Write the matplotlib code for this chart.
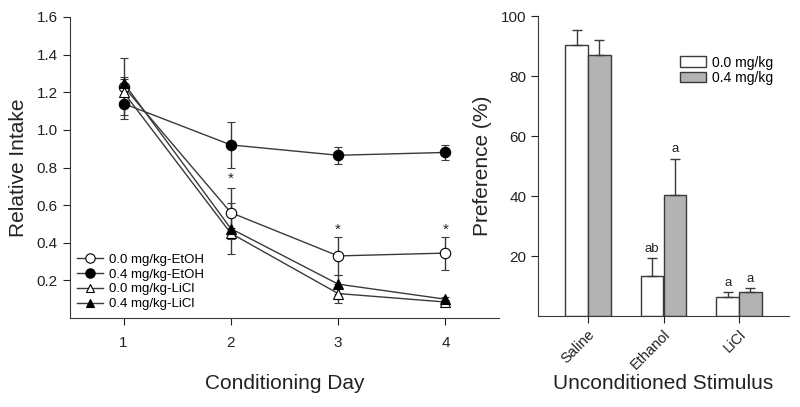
import numpy as np
import matplotlib
matplotlib.use("Agg")
import matplotlib.pyplot as plt
from matplotlib.lines import Line2D

plt.rcParams['font.family'] = ['Liberation Sans', 'DejaVu Sans']

# left panel: relative intake by conditioning day
days = [1, 2, 3, 4]
etoh_00 = [1.23, 0.56, 0.33, 0.345]
etoh_00_err = [0.15, 0.13, 0.10, 0.088]
etoh_04 = [1.14, 0.92, 0.865, 0.88]
etoh_04_err = [0.08, 0.12, 0.045, 0.04]
licl_00 = [1.20, 0.45, 0.13, 0.085]
licl_00_err = [0.07, 0.03, 0.05, 0.01]
licl_04 = [1.25, 0.475, 0.18, 0.10]
licl_04_err = [0.03, 0.135, 0.05, 0.01]
star_days = [2, 3, 4]
star_y = [0.74, 0.47, 0.47]

# right panel: preference by unconditioned stimulus
stimuli = ['Saline', 'Ethanol', 'LiCl']
pref_00 = [90.5, 13.5, 6.5]
pref_00_err = [5.0, 6.0, 1.5]
pref_04 = [87.0, 40.5, 8.0]
pref_04_err = [5.0, 12.0, 1.5]
letters_00 = ['', 'ab', 'a']
letters_04 = ['', 'a', 'a']

line_c = '#3a3a3a'
text_c = '#222222'

fig = plt.figure(figsize=(8, 4.07), dpi=100)
ax1 = fig.add_axes([70 / 800, 1 - 318 / 407, 429 / 800, 301 / 407])
ax2 = fig.add_axes([538 / 800, 1 - 316 / 407, 251 / 800, 300 / 407])

series = [
    (etoh_00, etoh_00_err, 'o', 'white', '0.0 mg/kg-EtOH'),
    (etoh_04, etoh_04_err, 'o', 'black', '0.4 mg/kg-EtOH'),
    (licl_00, licl_00_err, '^', 'white', '0.0 mg/kg-LiCl'),
    (licl_04, licl_04_err, '^', 'black', '0.4 mg/kg-LiCl'),
]
handles = []
for vals, errs, mk, fc, lab in series:
    ms = 7.5 if mk == 'o' else 7
    ax1.errorbar(days, vals, yerr=errs, marker=mk, ms=ms, mfc=fc, mec='black',
                 mew=0.8, color=line_c, lw=1.0, elinewidth=1.0, capsize=3,
                 ecolor=line_c)
    handles.append(Line2D([], [], marker=mk, ms=ms * 0.9, mfc=fc, mec='black',
                          mew=0.8, color=line_c, lw=1.0, label=lab))
for d, y in zip(star_days, star_y):
    ax1.text(d, y, '*', ha='center', va='center', fontsize=11, color=text_c)

ax1.set_xlim(0.5, 4.5)
ax1.set_ylim(0.0, 1.6)
ax1.set_xticks(days)
ax1.set_yticks([0.2, 0.4, 0.6, 0.8, 1.0, 1.2, 1.4, 1.6])
ax1.yaxis.set_major_formatter(matplotlib.ticker.FormatStrFormatter('%.1f'))
ax1.spines['top'].set_visible(False)
ax1.spines['right'].set_visible(False)
ax1.set_xlabel('Conditioning Day', fontsize=15, color=text_c)
ax1.xaxis.set_label_coords(0.5, (318 - 374) / 301)
ax1.set_ylabel('Relative Intake', fontsize=15, labelpad=6, color=text_c)
ax1.tick_params(labelsize=11, colors=text_c, length=5)
ax1.tick_params(axis='x', pad=8)
ax1.tick_params(axis='y', pad=4)
ax1.legend(handles=handles, loc='lower left', bbox_to_anchor=(-0.005, -0.005),
           frameon=False, fontsize=9.5, handlelength=2.0, borderpad=0.2,
           labelspacing=0.2, handletextpad=0.4)

x = np.arange(len(stimuli))
w = 0.3
ax2.bar(x - w / 2, pref_00, w, color='white', edgecolor=line_c, lw=1.0,
        label='0.0 mg/kg')
ax2.bar(x + w / 2, pref_04, w, color='#b3b3b3', edgecolor=line_c, lw=1.0,
        label='0.4 mg/kg')
ax2.errorbar(x - w / 2, pref_00, yerr=[np.zeros(3), pref_00_err], fmt='none',
             ecolor=line_c, elinewidth=1.0, capsize=3.5)
ax2.errorbar(x + w / 2, pref_04, yerr=[np.zeros(3), pref_04_err], fmt='none',
             ecolor=line_c, elinewidth=1.0, capsize=3.5)
for i in range(len(stimuli)):
    if letters_00[i]:
        ax2.text(x[i] - w / 2, pref_00[i] + pref_00_err[i] + 1.0, letters_00[i],
                 ha='center', va='bottom', fontsize=9.5, color=text_c)
    if letters_04[i]:
        ax2.text(x[i] + w / 2, pref_04[i] + pref_04_err[i] + 1.0, letters_04[i],
                 ha='center', va='bottom', fontsize=9.5, color=text_c)

ax2.set_xlim(-0.66, 2.66)
ax2.set_ylim(0, 100)
ax2.set_yticks([20, 40, 60, 80, 100])
ax2.set_xticks(x)
ax2.set_xticklabels(stimuli, rotation=45, ha='right', rotation_mode='anchor')
ax2.spines['top'].set_visible(False)
ax2.spines['right'].set_visible(False)
ax2.tick_params(labelsize=11, colors=text_c, length=5)
ax2.tick_params(axis='x', labelsize=10.5, pad=3)
ax2.set_xlabel('Unconditioned Stimulus', fontsize=15, color=text_c)
ax2.xaxis.set_label_coords(0.5, (316 - 374) / 300)
ax2.set_ylabel('Preference (%)', fontsize=15, labelpad=6, color=text_c)
ax2.legend(loc='upper right', bbox_to_anchor=(0.985, 0.91), frameon=False,
           fontsize=10, handlelength=1.9, handleheight=0.8, labelspacing=0.1,
           handletextpad=0.4)

for ax in (ax1, ax2):
    for s in ('left', 'bottom'):
        ax.spines[s].set_color(line_c)

fig.savefig('out.png', dpi=100)
